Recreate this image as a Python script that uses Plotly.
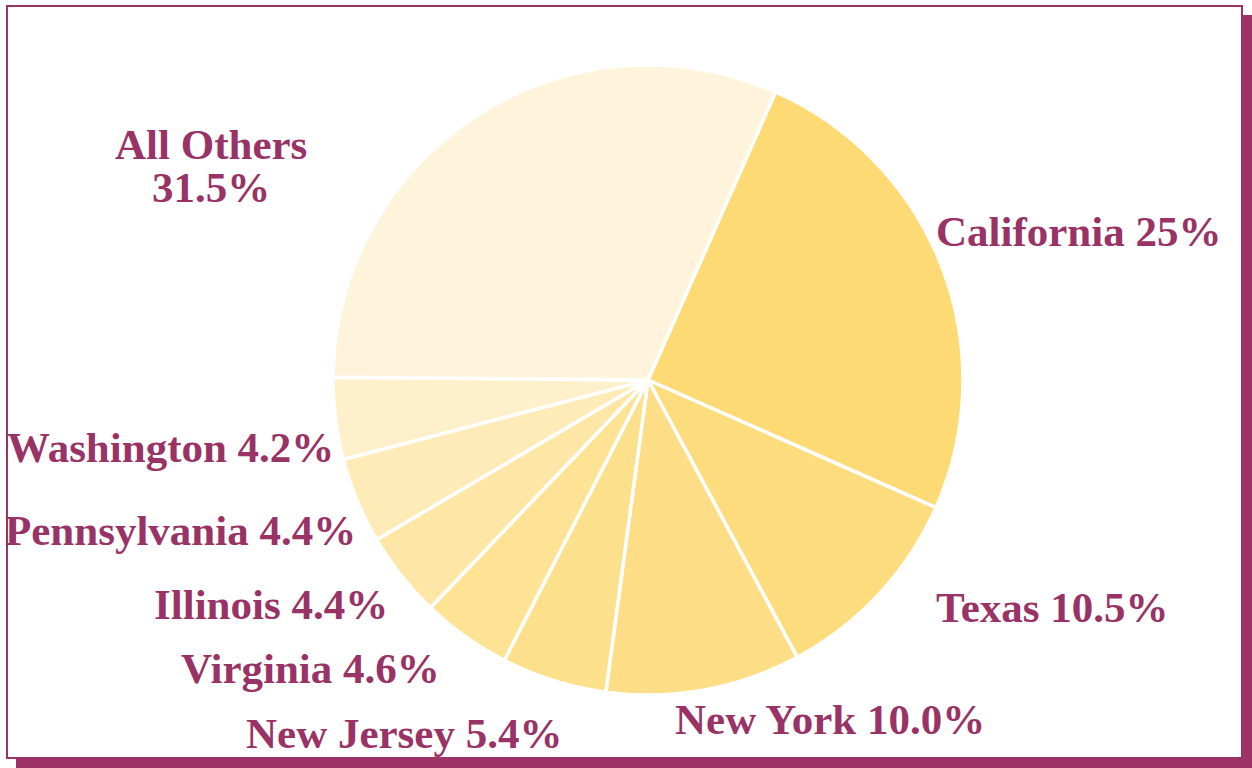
import plotly.graph_objects as go

states = ["California", "Texas", "New York", "New Jersey", "Virginia",
          "Illinois", "Pennsylvania", "Washington", "All Others"]
shares = [25.0, 10.5, 10.0, 5.4, 4.6, 4.4, 4.4, 4.2, 31.5]
share_labels = ["25%", "10.5%", "10.0%", "5.4%", "4.6%", "4.4%", "4.4%", "4.2%", "31.5%"]
colors = ["#FEDA74", "#FDDC7E", "#FDDE86", "#FDE08C", "#FDE393",
          "#FEE7A6", "#FEEBB8", "#FEF0CA", "#FEF4DB"]

W, H = 1252, 768
TEXT_COLOR = "#993366"

def px(x):
    return x / W

def py(y):
    return 1 - y / H

# label placement (pixel anchor x, text baseline y, anchor side)
label_pos = {
    "California": (934, 245, "left"),
    "Texas": (934, 620, "left"),
    "New York": (830, 732, "center"),
    "New Jersey": (404, 746, "center"),
    "Virginia": (442, 681, "right"),
    "Illinois": (390, 617, "right"),
    "Pennsylvania": (358, 543, "right"),
    "Washington": (336, 460, "right"),
}

fig = go.Figure(go.Pie(
    labels=states, values=shares, textinfo="none",
    sort=False, direction="clockwise", rotation=23.9,
    marker=dict(colors=colors, line=dict(color="white", width=3.5)),
    showlegend=False, hoverinfo="label+percent",
    domain=dict(x=[px(333), px(963)], y=[py(695), py(65)]),
))

FS = 43
annotations = []
for s, p in zip(states, share_labels):
    if s == "All Others":
        for line, base in ((s, 157), (p, 201)):
            annotations.append(dict(
                text=line, x=px(211), y=py(base - 13), xref="paper", yref="paper",
                xanchor="center", yanchor="middle", showarrow=False,
                font=dict(family="Liberation Serif", size=FS, color=TEXT_COLOR, weight="bold")))
    else:
        x, base, side = label_pos[s]
        annotations.append(dict(
            text=f"{s} {p}", x=px(x), y=py(base - 13), xref="paper", yref="paper",
            xanchor=side, yanchor="middle", showarrow=False,
            font=dict(family="Liberation Serif", size=FS, color=TEXT_COLOR, weight="bold")))

fig.update_layout(
    width=W, height=H, margin=dict(l=0, r=0, t=0, b=0),
    paper_bgcolor="white", plot_bgcolor="white",
    annotations=annotations,
    shapes=[
        dict(type="rect", xref="paper", yref="paper", layer="below",
             x0=px(16), x1=px(1252), y0=py(15), y1=py(768),
             fillcolor="#9B3366", line=dict(width=0)),
        dict(type="rect", xref="paper", yref="paper", layer="below",
             x0=px(7), x1=px(1242), y0=py(6), y1=py(758),
             fillcolor="white", line=dict(color="#9B3366", width=2)),
    ],
)
fig.write_html("out.html", config={"displayModeBar": False},
               post_script="document.body.style.margin='0';")
